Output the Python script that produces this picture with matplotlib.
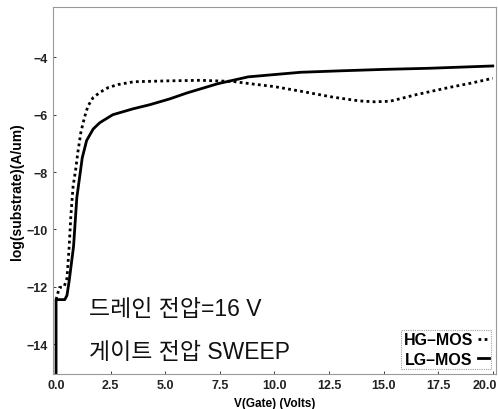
import matplotlib.pyplot as plt
import matplotlib.transforms as mtransforms

# LG-MOS (solid) substrate current, log scale
lg_x = [0, 0, 0.4, 0.5, 0.6, 0.8, 0.95, 1.2, 1.4, 1.7, 2.0, 2.6, 3.5, 4.3,
        5.2, 6.0, 7.4, 8.8, 10.0, 11.2, 13.0, 15.0, 17.1, 20.0]
lg_y = [-15.1, -12.45, -12.45, -12.3, -11.8, -10.6, -8.9, -7.5, -6.9, -6.5,
        -6.28, -6.0, -5.8, -5.65, -5.45, -5.24, -4.92, -4.68, -4.6, -4.52,
        -4.47, -4.42, -4.38, -4.3]

# HG-MOS (dotted)
hg_x = [0, 0.15, 0.37, 0.5, 0.6, 0.68, 0.78, 0.9, 1.0, 1.14, 1.3, 1.46, 1.7,
        2.05, 2.4, 2.83, 3.56, 5.1, 6.6, 8.1, 8.9, 10.0, 11.2, 12.7, 13.9,
        14.6, 15.3, 16.5, 18.0, 19.0, 20.0]
hg_y = [-12.45, -12.03, -12.0, -11.7, -10.6, -9.5, -8.5, -7.9, -7.3, -6.6,
        -6.1, -5.7, -5.4, -5.2, -5.05, -4.95, -4.85, -4.82, -4.8, -4.84,
        -4.92, -5.02, -5.18, -5.39, -5.52, -5.55, -5.53, -5.3, -5.05, -4.9,
        -4.73]

x_ticks = [0, 2.5, 5, 7.5, 10, 12.5, 15, 17.5, 20]
y_ticks = [-4, -6, -8, -10, -12, -14]

plt.rcParams['font.family'] = ['Liberation Sans', 'Noto Sans CJK KR', 'DejaVu Sans']

fig = plt.figure(figsize=(4.98, 4.10), dpi=100)
ax = fig.add_axes([0.106, 0.085, 0.89, 0.895])

ax.plot(hg_x, hg_y, color='black', lw=2, linestyle=(0, (1, 1.2)), label='HG–MOS')
ax.plot(lg_x, lg_y, color='black', lw=2, label='LG–MOS')

ax.set_xlim(-0.15, 20.15)
ax.set_ylim(-15.05, -2.25)
ax.set_xticks(x_ticks)
ax.set_xticklabels(['%.1f' % v for v in x_ticks])
ax.set_yticks(y_ticks)
ax.tick_params(direction='in', length=2, width=0.6, labelsize=9, colors='#222222')
for lab in ax.get_xticklabels() + ax.get_yticklabels():
    lab.set_fontweight('bold')
# keep the last x label inside the figure
last = ax.get_xticklabels()[-1]
last.set_transform(last.get_transform() +
                   mtransforms.ScaledTranslation(-8 / 100, 0, fig.dpi_scale_trans))

for s in ax.spines.values():
    s.set_color('#999999')
    s.set_linewidth(0.8)
    s.set_linestyle((0, (1, 1)))

ax.set_xlabel('V(Gate) (Volts)', fontsize=8.5, fontweight='bold', labelpad=4)
ax.set_ylabel('log(substrate)(A/um)', fontsize=10, fontweight='bold', labelpad=2)

kfont = ['Liberation Sans', 'Noto Sans CJK KR', 'DejaVu Sans']
ax.text(1.5, -12.77, '드레인 전압=16 V', fontsize=16.5, family=kfont,
        fontweight='light', va='center', color='#111111')
ax.text(1.5, -14.25, '게이트 전압 SWEEP', fontsize=16.5, family=kfont,
        fontweight='light', va='center', color='#111111')

leg = ax.legend(loc='lower right', markerfirst=False, handlelength=0.7,
                handletextpad=0.3, borderpad=0.15, labelspacing=0.3,
                prop={'weight': 'bold', 'size': 11.5}, fancybox=False,
                borderaxespad=0.3)
leg.get_frame().set_edgecolor('#888888')
leg.get_frame().set_linestyle((0, (1, 1)))
leg.get_frame().set_linewidth(0.8)

plt.savefig('out.png', dpi=100)
